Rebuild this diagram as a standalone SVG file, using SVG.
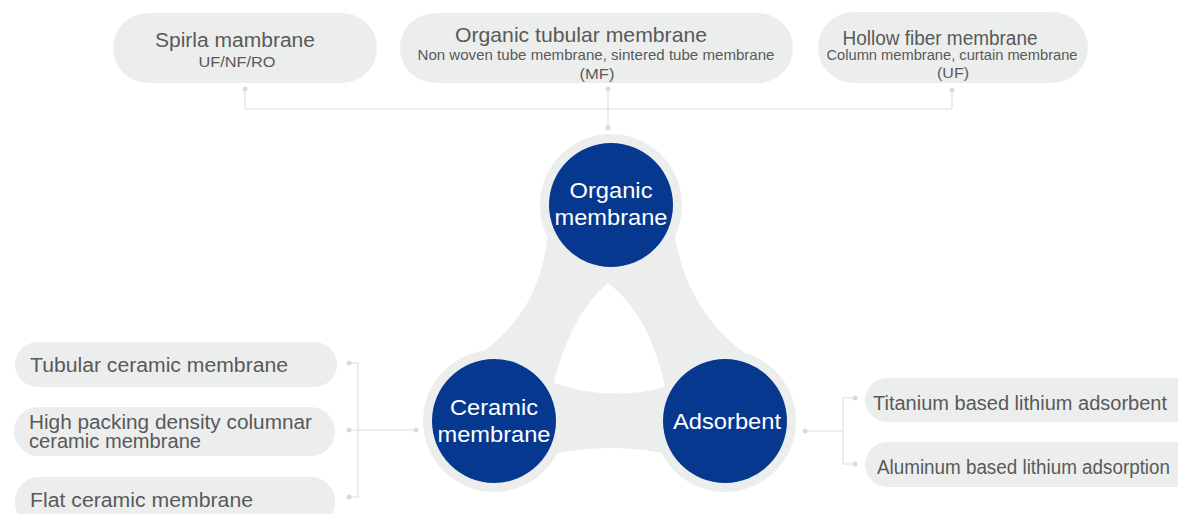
<svg xmlns="http://www.w3.org/2000/svg" width="1178" height="514" viewBox="0 0 1178 514">
<style>
.pill{fill:#eceeed}
.t{font-family:"Liberation Sans",Arial,sans-serif;fill:#595959}
.w{font-family:"Liberation Sans",Arial,sans-serif;fill:#ffffff;font-size:22px;text-anchor:middle}
.ln{stroke:#dedfdf;stroke-width:1.2;fill:none}
.dot{fill:#d9dada}
.halo{fill:#eceeed}
.core{fill:#07388f}
</style>
<rect width="1178" height="514" fill="#ffffff"/>
<g id="connectors">
<path class="ln" d="M245,89 V109 H952 V90 M608,89 V128"/>
<circle class="dot" cx="245" cy="89" r="2.5"/>
<circle class="dot" cx="608" cy="89" r="2.5"/>
<circle class="dot" cx="608" cy="128" r="2.5"/>
<circle class="dot" cx="952" cy="90" r="2.5"/>
<path class="ln" d="M349,363 H358 V497 H349 M349,430 H416"/>
<circle class="dot" cx="349" cy="363" r="2.5"/>
<circle class="dot" cx="349" cy="430" r="2.5"/>
<circle class="dot" cx="349" cy="497" r="2.5"/>
<circle class="dot" cx="416" cy="430" r="2.5"/>
<path class="ln" d="M805,431 H843 M855,398 H843 V464 H855"/>
<circle class="dot" cx="805" cy="431" r="2.5"/>
<circle class="dot" cx="855" cy="398" r="2.5"/>
<circle class="dot" cx="855" cy="464" r="2.5"/>
</g>
<g id="hub">
<path class="halo" fill-rule="evenodd" d="M611,205 L548,232 Q540,330 447,372 L494,421 L545,456 Q610,440 676,456 L725,421 L774,370 Q690,330 674,232 Z M608,283 Q570,315 554,383 Q610,402 665,387 Q650,315 608,283 Z"/>
</g>
<g id="organic">
<circle class="halo" cx="611" cy="205" r="71"/>
<circle class="core" cx="611" cy="205" r="62"/>
<text class="w" x="611" y="198" textLength="83" lengthAdjust="spacingAndGlyphs">Organic</text>
<text class="w" x="611" y="225" textLength="113" lengthAdjust="spacingAndGlyphs">membrane</text>
</g>
<g id="ceramic">
<circle class="halo" cx="494" cy="421" r="71"/>
<circle class="core" cx="494" cy="421" r="62"/>
<text class="w" x="494" y="415" textLength="88" lengthAdjust="spacingAndGlyphs">Ceramic</text>
<text class="w" x="494" y="442" textLength="113" lengthAdjust="spacingAndGlyphs">membrane</text>
</g>
<g id="adsorbent">
<circle class="halo" cx="725" cy="421" r="71"/>
<circle class="core" cx="725" cy="421" r="62"/>
<text class="w" x="727" y="429" textLength="108" lengthAdjust="spacingAndGlyphs">Adsorbent</text>
</g>
<g id="spiral">
<rect class="pill" x="113" y="13" width="264" height="70" rx="35"/>
<text class="t" x="235" y="47" font-size="20" text-anchor="middle" textLength="160" lengthAdjust="spacingAndGlyphs">Spirla mambrane</text>
<text class="t" x="237" y="67" font-size="14.5" text-anchor="middle" textLength="77" lengthAdjust="spacingAndGlyphs">UF/NF/RO</text>
</g>
<g id="tubular">
<rect class="pill" x="400" y="13" width="393" height="70" rx="35"/>
<text class="t" x="581" y="42" font-size="21" text-anchor="middle" textLength="252" lengthAdjust="spacingAndGlyphs">Organic tubular membrane</text>
<text class="t" x="596" y="60" font-size="15" text-anchor="middle" textLength="357" lengthAdjust="spacingAndGlyphs">Non woven tube membrane, sintered tube membrane</text>
<text class="t" x="597" y="79" font-size="15" text-anchor="middle" textLength="35" lengthAdjust="spacingAndGlyphs">(MF)</text>
</g>
<g id="hollow">
<rect class="pill" x="818" y="12" width="270" height="71" rx="35.5"/>
<text class="t" x="940" y="45" font-size="20" text-anchor="middle" textLength="195" lengthAdjust="spacingAndGlyphs">Hollow fiber membrane</text>
<text class="t" x="952" y="60" font-size="15" text-anchor="middle" textLength="251" lengthAdjust="spacingAndGlyphs">Column membrane, curtain membrane</text>
<text class="t" x="953" y="78" font-size="15" text-anchor="middle" textLength="32" lengthAdjust="spacingAndGlyphs">(UF)</text>
</g>
<g id="tubular-ceramic">
<rect class="pill" x="15" y="342" width="322" height="45" rx="22.5"/>
<text class="t" x="30" y="372" font-size="20" textLength="258" lengthAdjust="spacingAndGlyphs">Tubular ceramic membrane</text>
</g>
<g id="columnar-ceramic">
<rect class="pill" x="14" y="407" width="321" height="49" rx="24.5"/>
<text class="t" x="29" y="429" font-size="20" textLength="283" lengthAdjust="spacingAndGlyphs">High packing density columnar</text>
<text class="t" x="29" y="448" font-size="20" textLength="172" lengthAdjust="spacingAndGlyphs">ceramic membrane</text>
</g>
<g id="flat-ceramic">
<rect class="pill" x="15" y="477" width="320" height="50" rx="24"/>
<text class="t" x="30" y="507" font-size="20" textLength="223" lengthAdjust="spacingAndGlyphs">Flat ceramic membrane</text>
</g>
<g id="titanium">
<rect class="pill" x="865" y="378" width="340" height="44" rx="22"/>
<text class="t" x="873" y="410" font-size="20" textLength="294" lengthAdjust="spacingAndGlyphs">Titanium based lithium adsorbent</text>
</g>
<g id="aluminum">
<rect class="pill" x="865" y="442" width="340" height="45" rx="22.5"/>
<text class="t" x="877" y="474" font-size="20" textLength="293" lengthAdjust="spacingAndGlyphs">Aluminum based lithium adsorption</text>
</g>
</svg>
